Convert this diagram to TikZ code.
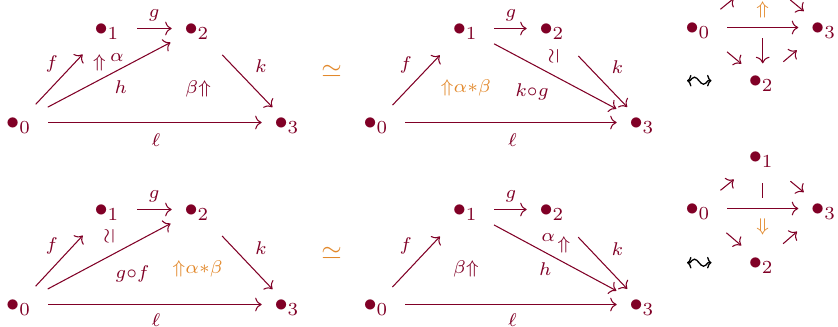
\documentclass[tikz,border=0pt]{standalone}
\usepackage{amssymb}
\usetikzlibrary{arrows.meta}
\definecolor{dred}{RGB}{128,0,38}
\definecolor{org}{RGB}{226,137,44}
\begin{document}
\begin{tikzpicture}[x=0.38pt,y=-0.38pt,
  vtx/.style={inner sep=0pt,outer sep=0pt,text=dred,text height=5pt,text depth=0pt},
  lbl/.style={text=dred,font=\scriptsize,inner sep=0pt},
  olbl/.style={text=org,font=\scriptsize,inner sep=0pt},
  ar/.style={->,draw=dred},
  ln/.style={draw=dred},
  sq/.style={line width=0.5pt,{Computer Modern Rightarrow[length=1.7pt,width=4.4pt]}-{Computer Modern Rightarrow[length=1.7pt,width=4.4pt]}},
  sh/.style 2 args={shorten <=#1*0.38pt,shorten >=#2*0.38pt}]
\useasboundingbox (0,0) rectangle (838,326);

% ---------- top left ----------
\node[vtx] (a0) at (18.6,122.5) {$\bullet_0$};
\node[vtx] (a1) at (107,28.5) {$\bullet_1$};
\node[vtx] (a2) at (197,28.5) {$\bullet_2$};
\node[vtx] (a3) at (287,122.5) {$\bullet_3$};
\draw[ar,sh={25}{35.6}] (a0.center) -- (a1.center);
\draw[ar,sh={30.3}{25.3}] (a1.center) -- (a2.center);
\draw[ar,sh={33}{30}] (a0.center) -- (a2.center);
\draw[ar,sh={36.5}{21.1}] (a2.center) -- (a3.center);
\draw[ar,sh={29.7}{25.3}] (a0.center) -- (a3.center);
\node[lbl] (tlf) at (51.7,64.3) {$f$};
\node[lbl] (tlg) at (154,15) {$g$};
\node[lbl] (tlu) at (99.5,62.7) {$\Uparrow$};
\node[lbl] (tla) at (117,57.5) {$\alpha$};
\node[lbl] (tlh) at (120.8,87.5) {$h$};
\node[lbl] (tlb) at (198.3,89) {$\beta{\Uparrow}$};
\node[lbl] (tlk) at (261,66.3) {$k$};
\node[lbl] (tll) at (156,139.7) {$\ell$};

\node[text=org] (eq1) at (331.7,71.7) {$\simeq$};

% ---------- top middle ----------
\node[vtx] (b0) at (376,122.5) {$\bullet_0$};
\node[vtx] (b1) at (465.3,28.5) {$\bullet_1$};
\node[vtx] (b2) at (552,28.5) {$\bullet_2$};
\node[vtx] (b3) at (642,122.5) {$\bullet_3$};
\draw[ar,sh={24}{37}] (b0.center) -- (b1.center);
\draw[ar,sh={28.7}{25.3}] (b1.center) -- (b2.center);
\draw[ar,sh={32.6}{29.1}] (b1.center) -- (b3.center);
\draw[ar,sh={38.1}{21.5}] (b2.center) -- (b3.center);
\draw[ar,sh={29}{25.3}] (b0.center) -- (b3.center);
\node[lbl] (tmf) at (405.8,64.7) {$f$};
\node[lbl] (tmg) at (510.8,15) {$g$};
\node[lbl] (tmk) at (617.5,67.5) {$k$};
\node[lbl] (tmkg) at (532,91.7) {$k{\circ}g$};
\node[lbl] (tml) at (512.5,139.7) {$\ell$};
\node[lbl,rotate=90] (tmw) at (553.5,55.8) {$\simeq$};
\node[olbl] (tmab) at (465.8,87.5) {${\Uparrow}\alpha{*}\beta$};

% ---------- top right ----------
\node[vtx] (f0) at (698,27.5) {$\bullet_0$};
\coordinate (f1) at (761.3,-24);
\node[vtx] (f2) at (761.3,80.5) {$\bullet_2$};
\node[vtx] (f3) at (823.6,27.5) {$\bullet_3$};
\draw[ar,sh={29.3}{25.3}] (f0.center) -- (f3.center);
\draw[ar,sh={28.9}{35.3}] (f0.center) -- (f1);
\draw[ar,sh={37.6}{25.7}] (f1) -- (f3.center);
\draw[ar,sh={37.9}{26}] (f0.center) -- (f2.center);
\draw[ar,sh={28.9}{35.2}] (f2.center) -- (f3.center);
\coordinate (td1) at (762.7,38.3);
\coordinate (td2) at (762.7,63.3);
\draw[ar] (td1) -- (td2);
\node[olbl] (tru) at (762.7,9.8) {$\Uparrow$};
\draw[sq] (687,80.7) -- (690,80.7) sin (694.5,77.2) cos (699,80.7) sin (703.5,84.2) cos (708,80.7) -- (711.5,80.7);

% ---------- bottom left ----------
\node[vtx] (c0) at (18.6,304.5) {$\bullet_0$};
\node[vtx] (c1) at (107,209.5) {$\bullet_1$};
\node[vtx] (c2) at (197,209.5) {$\bullet_2$};
\node[vtx] (c3) at (287,304.5) {$\bullet_3$};
\draw[ar,sh={25}{35.6}] (c0.center) -- (c1.center);
\draw[ar,sh={30.3}{25.3}] (c1.center) -- (c2.center);
\draw[ar,sh={33}{30}] (c0.center) -- (c2.center);
\draw[ar,sh={36.5}{21.1}] (c2.center) -- (c3.center);
\draw[ar,sh={29.7}{25.3}] (c0.center) -- (c3.center);
\node[lbl] (blf) at (51.7,245.8) {$f$};
\node[lbl] (blg) at (154,196.7) {$g$};
\node[lbl,rotate=90] (blw) at (109,235.8) {$\simeq$};
\node[lbl] (blgf) at (132.5,274.2) {$g{\circ}f$};
\node[olbl] (blab) at (197.5,269) {${\Uparrow}\alpha{*}\beta$};
\node[lbl] (blk) at (261,248.3) {$k$};
\node[lbl] (bll) at (156,319.7) {$\ell$};

\node[text=org] (eq2) at (331.7,253.3) {$\simeq$};

% ---------- bottom middle ----------
\node[vtx] (d0) at (376,304.5) {$\bullet_0$};
\node[vtx] (d1) at (465.3,209.5) {$\bullet_1$};
\node[vtx] (d2) at (552,209.5) {$\bullet_2$};
\node[vtx] (d3) at (642,304.5) {$\bullet_3$};
\draw[ar,sh={24}{37}] (d0.center) -- (d1.center);
\draw[ar,sh={28.7}{25.3}] (d1.center) -- (d2.center);
\draw[ar,sh={32.6}{29.1}] (d1.center) -- (d3.center);
\draw[ar,sh={38.1}{21.5}] (d2.center) -- (d3.center);
\draw[ar,sh={29}{25.3}] (d0.center) -- (d3.center);
\node[lbl] (bmf) at (405.8,245.8) {$f$};
\node[lbl] (bmg) at (510.8,196.7) {$g$};
\node[lbl] (bmh) at (545.2,269.3) {$h$};
\node[lbl] (bmk) at (617.5,248.8) {$k$};
\node[lbl] (bma) at (548.3,238) {$\alpha$};
\node[lbl] (bmu) at (564,244.7) {$\Uparrow$};
\node[lbl] (bmb) at (466,268.5) {$\beta{\Uparrow}$};
\node[lbl] (bml) at (512.5,319.7) {$\ell$};

% ---------- bottom right ----------
\node[vtx] (e0) at (698,208.5) {$\bullet_0$};
\node[vtx] (e1) at (761.3,157.3) {$\bullet_1$};
\node[vtx] (e2) at (761.3,262.7) {$\bullet_2$};
\node[vtx] (e3) at (823.6,208.5) {$\bullet_3$};
\draw[ar,sh={29.3}{25.3}] (e0.center) -- (e3.center);
\draw[ar,sh={28.9}{35.3}] (e0.center) -- (e1.center);
\draw[ar,sh={37.6}{25.7}] (e1.center) -- (e3.center);
\draw[ar,sh={37.4}{26.4}] (e0.center) -- (e2.center);
\draw[ar,sh={28.9}{35.2}] (e2.center) -- (e3.center);
\coordinate (bd1) at (762.7,183.3);
\coordinate (bd2) at (762.7,198.3);
\draw[ln] (bd1) -- (bd2);
\node[olbl] (brd) at (762.7,226.7) {$\Downarrow$};
\draw[sq] (687,262.7) -- (690,262.7) sin (694.5,259.2) cos (699,262.7) sin (703.5,266.2) cos (708,262.7) -- (711.5,262.7);
\end{tikzpicture}
\end{document}
